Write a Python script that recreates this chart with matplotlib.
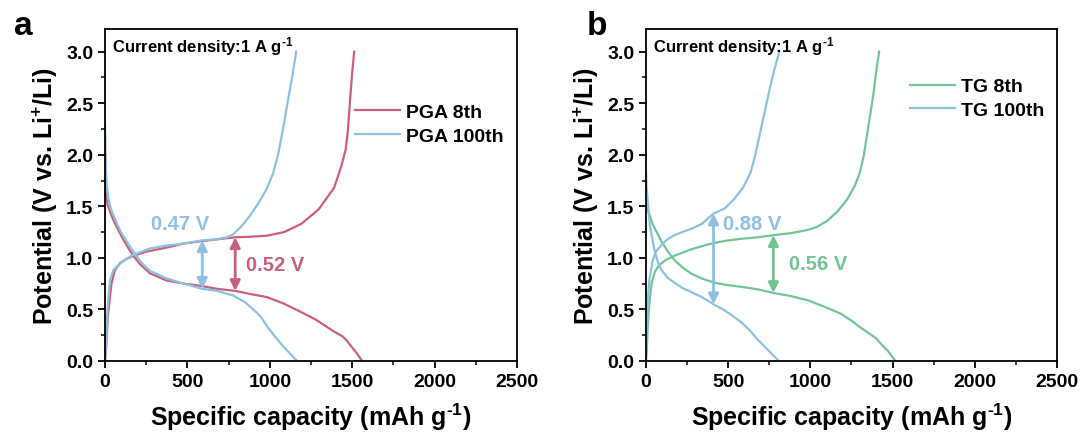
import matplotlib
matplotlib.use('Agg')
import matplotlib.pyplot as plt
from matplotlib.ticker import MultipleLocator

plt.rcParams['font.family'] = ['Liberation Sans', 'DejaVu Sans']
plt.rcParams['font.weight'] = 'bold'
plt.rcParams['axes.labelweight'] = 'bold'
plt.rcParams['mathtext.fontset'] = 'custom'
plt.rcParams['mathtext.rm'] = 'Liberation Sans:bold'
plt.rcParams['mathtext.bf'] = 'Liberation Sans:bold'
plt.rcParams['mathtext.default'] = 'regular'

red = '#c7607c'
blue = '#8ec0e0'
green = '#72c497'

# PGA, cycle 8
pga8_chg_cap = [0, 6, 17, 38, 59, 91, 130, 172, 250, 374, 480, 576, 680, 790, 880, 981, 1086,
                1191, 1296, 1390, 1432, 1460, 1474, 1490, 1500, 1512]
pga8_chg_v = [0, 0.1, 0.43, 0.74, 0.88, 0.95, 0.99, 1.02, 1.06, 1.10, 1.14, 1.16, 1.18, 1.20,
              1.205, 1.215, 1.25, 1.33, 1.47, 1.68, 1.88, 2.05, 2.24, 2.6, 2.8, 3.0]
pga8_dis_cap = [0, 5, 15, 30, 50, 71, 100, 132, 172, 212, 273, 374, 480, 576, 680, 790, 880,
                981, 1080, 1183, 1280, 1385, 1440, 1466, 1500, 1530, 1560]
pga8_dis_v = [1.75, 1.62, 1.52, 1.45, 1.37, 1.30, 1.21, 1.12, 1.02, 0.94, 0.85, 0.78, 0.75,
              0.73, 0.70, 0.68, 0.65, 0.62, 0.56, 0.48, 0.40, 0.29, 0.24, 0.20, 0.13, 0.07, 0.0]

# PGA, cycle 100
pga100_chg_cap = [0, 5, 15, 30, 50, 80, 120, 172, 270, 374, 480, 590, 677, 740, 778, 830, 880,
                  930, 981, 1020, 1050, 1080, 1107, 1135, 1160]
pga100_chg_v = [0, 0.1, 0.5, 0.78, 0.88, 0.93, 0.98, 1.03, 1.09, 1.12, 1.14, 1.17, 1.18, 1.20,
                1.23, 1.31, 1.41, 1.53, 1.67, 1.82, 2.0, 2.25, 2.5, 2.75, 3.0]
pga100_dis_cap = [0, 3, 6, 10, 20, 35, 59, 100, 164, 212, 268, 374, 480, 590, 680, 778, 850,
                  920, 950, 981, 1030, 1082, 1130, 1165]
pga100_dis_v = [2.3, 2.05, 1.85, 1.72, 1.58, 1.48, 1.38, 1.24, 1.08, 0.97, 0.88, 0.80, 0.75,
                0.70, 0.68, 0.635, 0.57, 0.47, 0.42, 0.34, 0.24, 0.14, 0.06, 0.0]

# TG, cycle 8
tg8_chg_cap = [0, 5, 10, 20, 35, 55, 81, 120, 172, 270, 375, 480, 577, 680, 775, 880, 982,
               1040, 1103, 1165, 1225, 1270, 1300, 1326, 1350, 1381, 1400, 1418]
tg8_chg_v = [0, 0.1, 0.3, 0.55, 0.76, 0.87, 0.93, 0.98, 1.02, 1.08, 1.13, 1.165, 1.185, 1.20,
             1.22, 1.24, 1.27, 1.30, 1.36, 1.45, 1.57, 1.70, 1.82, 2.0, 2.25, 2.56, 2.8, 3.0]
tg8_dis_cap = [0, 10, 40, 91, 130, 172, 220, 273, 340, 415, 480, 577, 680, 775, 880, 982,
               1080, 1184, 1260, 1300, 1346, 1400, 1427, 1470, 1518]
tg8_dis_v = [1.52, 1.47, 1.33, 1.17, 1.07, 0.98, 0.91, 0.85, 0.80, 0.76, 0.74, 0.72, 0.695,
             0.66, 0.63, 0.59, 0.53, 0.46, 0.38, 0.33, 0.28, 0.22, 0.17, 0.10, 0.0]

# TG, cycle 100
tg100_chg_cap = [0, 5, 12, 20, 40, 60, 91, 130, 172, 220, 273, 340, 411, 480, 536, 590, 637,
                 665, 690, 720, 747, 780, 811]
tg100_chg_v = [0, 0.3, 0.6, 0.78, 0.97, 1.06, 1.12, 1.18, 1.22, 1.25, 1.28, 1.33, 1.43, 1.48,
               1.57, 1.68, 1.83, 2.0, 2.18, 2.4, 2.6, 2.82, 3.0]
tg100_dis_cap = [0, 3, 10, 25, 50, 70, 91, 130, 172, 220, 273, 340, 411, 480, 577, 630, 678,
                 740, 790, 809]
tg100_dis_v = [1.85, 1.7, 1.57, 1.3, 1.09, 0.97, 0.89, 0.81, 0.76, 0.71, 0.67, 0.62, 0.55,
               0.49, 0.38, 0.30, 0.21, 0.11, 0.03, 0.0]

# voltage hysteresis arrows: (capacity, upper potential, gap)
pga_gaps = [(590, 1.17, 0.47, blue), (790, 1.20, 0.52, red)]
tg_gaps = [(411, 1.43, 0.88, blue), (775, 1.22, 0.56, green)]

fig = plt.figure(figsize=(10.86, 4.39), dpi=100)
ax1 = fig.add_axes([0.0967, 0.1754, 0.3794, 0.7563])
ax2 = fig.add_axes([0.5948, 0.1754, 0.3785, 0.7563])


def style(ax):
    ax.set_xlim(0, 2500)
    ax.set_ylim(0, 3.22)
    ax.xaxis.set_major_locator(MultipleLocator(500))
    ax.xaxis.set_minor_locator(MultipleLocator(250))
    ax.yaxis.set_major_locator(MultipleLocator(0.5))
    ax.yaxis.set_minor_locator(MultipleLocator(0.25))
    ax.yaxis.set_major_formatter(matplotlib.ticker.FormatStrFormatter('%.1f'))
    ax.tick_params(which='major', direction='out', length=5, width=1.3, labelsize=14)
    ax.tick_params(which='minor', direction='out', length=3, width=1.1)
    for s in ax.spines.values():
        s.set_linewidth(1.3)
    ax.set_xlabel(r'Specific capacity (mAh g$^{\text{-1}}$)', fontsize=18, labelpad=8)
    ax.set_ylabel('Potential (V vs. Li$^{+}$/Li)', fontsize=18, labelpad=4)
    ax.text(0.017, 0.95, r'Current density:1 A g$^{\text{-1}}$', transform=ax.transAxes,
            fontsize=12, va='center', ha='left')


def gap_arrows(ax, gaps, labels_xy):
    for (cap, top, gap, col), (tx, ty) in zip(gaps, labels_xy):
        ax.annotate('', xy=(cap, top - gap), xytext=(cap, top),
                    arrowprops=dict(arrowstyle='<|-|>', color=col, lw=2, mutation_scale=15,
                                    shrinkA=0, shrinkB=0))
        ax.text(tx, ty, '%.2f V' % gap, color=col, fontsize=14.5, ha='center', va='center')


style(ax1)
ax1.plot(pga8_chg_cap, pga8_chg_v, color=red, lw=1.6, label='PGA 8th')
ax1.plot(pga8_dis_cap, pga8_dis_v, color=red, lw=1.6)
ax1.plot(pga100_chg_cap, pga100_chg_v, color=blue, lw=1.6, label='PGA 100th')
ax1.plot(pga100_dis_cap, pga100_dis_v, color=blue, lw=1.6)
gap_arrows(ax1, pga_gaps, [(455, 1.33), (1035, 0.94)])
ax1.legend(loc='upper left', bbox_to_anchor=(0.607, 0.775), frameon=False, fontsize=14,
           handlelength=2.3, handletextpad=0.3, labelspacing=0.3, borderpad=0,
           borderaxespad=0)
ax1.text(-0.22, 1.01, 'a', transform=ax1.transAxes, fontsize=24, fontweight='bold',
         ha='left', va='center')

style(ax2)
ax2.plot(tg8_chg_cap, tg8_chg_v, color=green, lw=1.6, label='TG 8th')
ax2.plot(tg8_dis_cap, tg8_dis_v, color=green, lw=1.6)
ax2.plot(tg100_chg_cap, tg100_chg_v, color=blue, lw=1.6, label='TG 100th')
ax2.plot(tg100_dis_cap, tg100_dis_v, color=blue, lw=1.6)
gap_arrows(ax2, tg_gaps, [(645, 1.33), (1050, 0.95)])
ax2.legend(loc='upper left', bbox_to_anchor=(0.643, 0.853), frameon=False, fontsize=14,
           handlelength=2.3, handletextpad=0.3, labelspacing=0.3, borderpad=0,
           borderaxespad=0)
ax2.text(-0.145, 1.01, 'b', transform=ax2.transAxes, fontsize=24, fontweight='bold',
         ha='left', va='center')

fig.savefig('out.png', dpi=100)
